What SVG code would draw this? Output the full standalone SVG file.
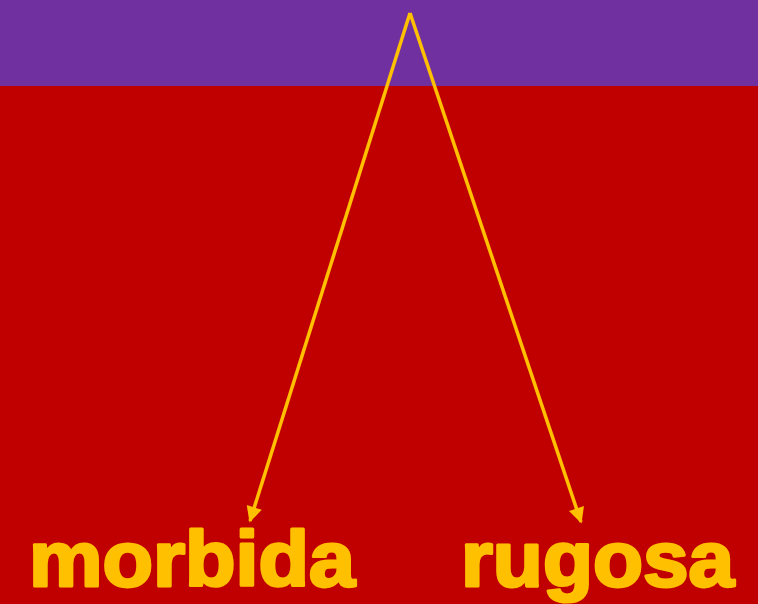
<svg xmlns="http://www.w3.org/2000/svg" width="758" height="604" viewBox="0 0 758 604">
<style>
.lbl{font-family:"Liberation Sans",Arial,sans-serif;font-weight:bold;font-size:77px;fill:#FFC000;stroke:#FFC000;stroke-width:3;stroke-linejoin:round}
.con{stroke:#FFC000;stroke-width:3.5;fill:none}
</style>
<defs>
<marker id="ah" viewBox="0 0 10 10" refX="9" refY="5" markerWidth="5" markerHeight="4.5" orient="auto" markerUnits="strokeWidth">
<path d="M0,0 L10,5 L0,10 z" fill="#FFC000"/>
</marker>
</defs>
<rect id="bg-top" x="0" y="0" width="758" height="86" fill="#7030A0"/>
<rect id="bg-main" x="0" y="86" width="758" height="518" fill="#C00000"/>
<g id="connectors">
<line class="con" x1="410" y1="13" x2="250" y2="521" marker-end="url(#ah)"/>
<line class="con" x1="410" y1="13" x2="581" y2="522" marker-end="url(#ah)"/>
</g>
<g id="morbida"><text class="lbl" x="29" y="586" textLength="326" lengthAdjust="spacingAndGlyphs">morbida</text></g>
<g id="rugosa"><text class="lbl" x="461" y="586" textLength="273" lengthAdjust="spacingAndGlyphs">rugosa</text></g>
</svg>
